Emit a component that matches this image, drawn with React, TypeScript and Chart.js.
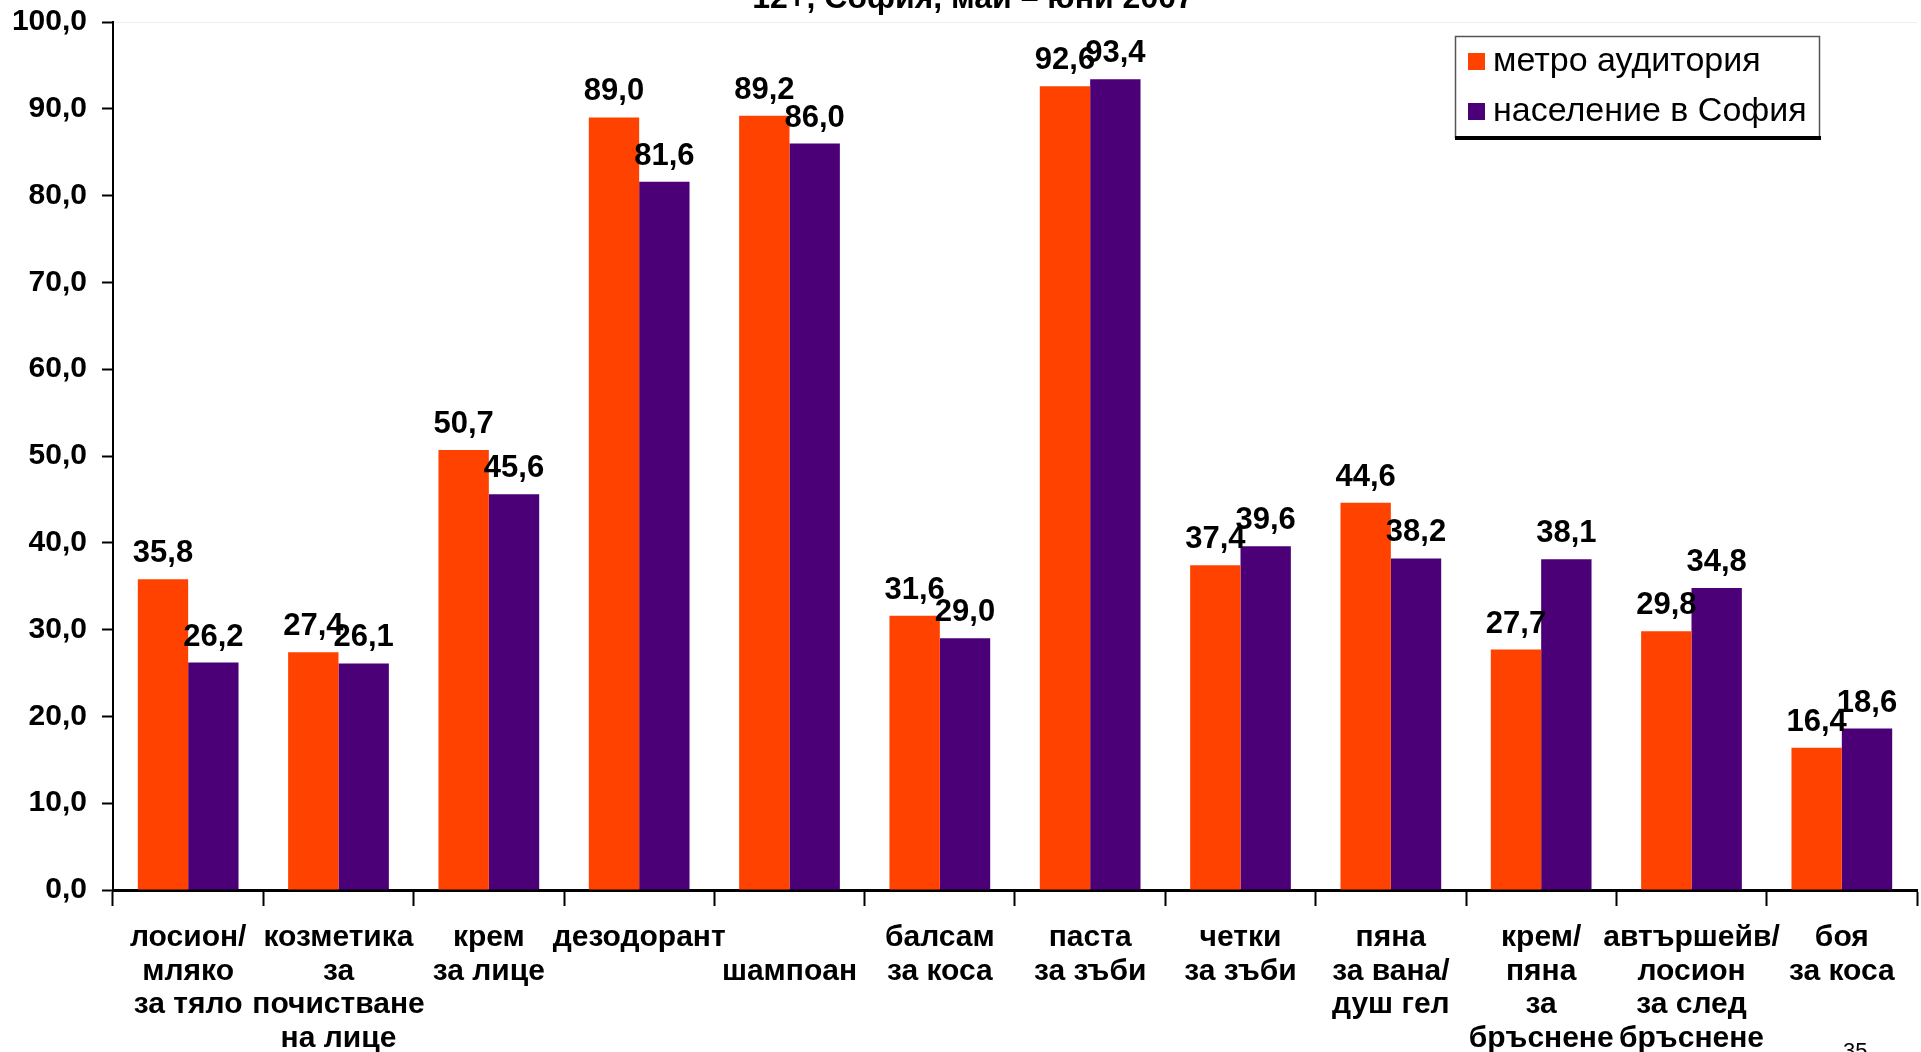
import React, { useEffect, useRef } from "react";
import { Chart, registerables } from "chart.js";

Chart.register(...registerables);

const categories: string[][] = [
  ["лосион/", "мляко", "за тяло"],
  ["козметика", "за", "почистване", "на лице"],
  ["крем", "за лице"],
  ["дезодорант"],
  ["", "шампоан"],
  ["балсам", "за коса"],
  ["паста", "за зъби"],
  ["четки", "за зъби"],
  ["пяна", "за вана/", "душ гел"],
  ["крем/", "пяна", "за", "бръснене"],
  ["автършейв/", "лосион", "за след", "бръснене"],
  ["боя", "за коса"],
];

const metroValues: number[] = [35.8, 27.4, 50.7, 89.0, 89.2, 31.6, 92.6, 37.4, 44.6, 27.7, 29.8, 16.4];
const sofiaValues: number[] = [26.2, 26.1, 45.6, 81.6, 86.0, 29.0, 93.4, 39.6, 38.2, 38.1, 34.8, 18.6];

const seriesNames: string[] = ["метро аудитория", "население в София"];
const titleText = "12+, София, май – юни 2007";
const pageNumber = "35";

const ORANGE = "#FF4200";
const PURPLE = "#4B0078";
const FONT = "'Liberation Sans', Arial, Helvetica, sans-serif";

const fmt = (v: number) => v.toFixed(1).replace(".", ",");

const decorPlugin = {
  id: "decor",
  beforeDraw(chart: any) {
    const ctx = chart.ctx;
    const a = chart.chartArea;
    ctx.save();
    ctx.strokeStyle = "#eeeeee";
    ctx.lineWidth = 1;
    ctx.beginPath();
    ctx.moveTo(a.left, a.top + 0.5);
    ctx.lineTo(a.right, a.top + 0.5);
    ctx.stroke();
    ctx.restore();
  },
  afterDraw(chart: any) {
    const ctx = chart.ctx;
    ctx.save();
    // title (cut off at top)
    ctx.fillStyle = "#000";
    ctx.font = `bold 32px ${FONT}`;
    ctx.textAlign = "center";
    ctx.textBaseline = "alphabetic";
    ctx.fillText(titleText, 973, 8);

    // legend
    const lx = 1455, ly = 36, lw = 364, lh = 101;
    ctx.fillStyle = "#ffffff";
    ctx.fillRect(lx, ly, lw, lh);
    ctx.strokeStyle = "#555555";
    ctx.lineWidth = 1.5;
    ctx.strokeRect(lx + 0.5, ly + 0.5, lw, lh);
    ctx.fillStyle = "#000";
    ctx.fillRect(lx, ly + lh - 1, lw + 2, 4);
    const items = [
      { c: ORANGE, t: seriesNames[0], y: 53 },
      { c: PURPLE, t: seriesNames[1], y: 103 },
    ];
    ctx.font = `34px ${FONT}`;
    ctx.textAlign = "left";
    ctx.textBaseline = "alphabetic";
    for (const it of items) {
      ctx.fillStyle = it.c;
      ctx.fillRect(1468, it.y, 17, 17);
      ctx.fillStyle = "#000";
      ctx.fillText(it.t, 1493, it.y + 18);
    }

    // page number
    ctx.font = `22px ${FONT}`;
    ctx.fillStyle = "#000";
    ctx.textBaseline = "top";
    ctx.fillText(pageNumber, 1843, 1041);
    ctx.restore();
  },
  afterDatasetsDraw(chart: any) {
    const ctx = chart.ctx;
    ctx.save();
    ctx.font = `bold 31px ${FONT}`;
    ctx.fillStyle = "#000";
    ctx.textAlign = "center";
    ctx.textBaseline = "alphabetic";
    chart.data.datasets.forEach((ds: any, i: number) => {
      const meta = chart.getDatasetMeta(i);
      meta.data.forEach((el: any, j: number) => {
        ctx.fillText(fmt(ds.data[j]), el.x, el.y - 17);
      });
    });
    ctx.restore();
  },
};

export default function App() {
  const ref = useRef<HTMLCanvasElement | null>(null);
  useEffect(() => {
    if (!ref.current) return;
    const chart = new Chart(ref.current, {
      type: "bar",
      data: {
        labels: categories,
        datasets: [
          { label: seriesNames[0], data: metroValues, backgroundColor: ORANGE, borderWidth: 0 },
          { label: seriesNames[1], data: sofiaValues, backgroundColor: PURPLE, borderWidth: 0 },
        ],
      },
      options: {
        animation: false,
        responsive: false,
        maintainAspectRatio: false,
        layout: { padding: { top: 22, right: 4, left: 0, bottom: 0 } },
        plugins: {
          legend: { display: false },
          title: { display: false },
          tooltip: { enabled: false },
        },
        datasets: { bar: { categoryPercentage: 0.67, barPercentage: 1.0 } },
        scales: {
          x: {
            grid: {
              display: true,
              drawOnChartArea: false,
              drawTicks: true,
              tickLength: 16,
              tickWidth: 2,
              tickColor: "#000",
              offset: true,
            },
            border: { display: true, color: "#000", width: 3 },
            ticks: {
              color: "#000",
              font: { family: FONT, size: 30, weight: "bold", lineHeight: 1.12 },
              padding: 15,
              maxRotation: 0,
              autoSkip: false,
            },
            afterFit(scale: any) {
              scale.height = 162;
              scale.paddingLeft = 0;
              scale.paddingRight = 0;
            },
          },
          y: {
            min: 0,
            max: 100,
            grid: {
              display: true,
              drawOnChartArea: false,
              drawTicks: true,
              tickLength: 11,
              tickWidth: 2,
              tickColor: "#000",
            },
            border: { display: true, color: "#000", width: 2 },
            ticks: {
              stepSize: 10,
              color: "#000",
              font: { family: FONT, size: 30, weight: "bold" },
              padding: 15,
              callback: (v: any) => fmt(Number(v)),
            },
            afterFit(scale: any) {
              scale.width = 113;
              scale.paddingTop = 0;
              scale.paddingBottom = 0;
            },
          },
        },
      },
      plugins: [decorPlugin],
    } as any);
    return () => chart.destroy();
  }, []);

  return (
    <div style={{ position: "fixed", left: 0, top: 0, width: 1921, height: 1052, background: "#fff" }}>
      <canvas ref={ref} width={1921} height={1052} style={{ display: "block", width: 1921, height: 1052 }} />
    </div>
  );
}
